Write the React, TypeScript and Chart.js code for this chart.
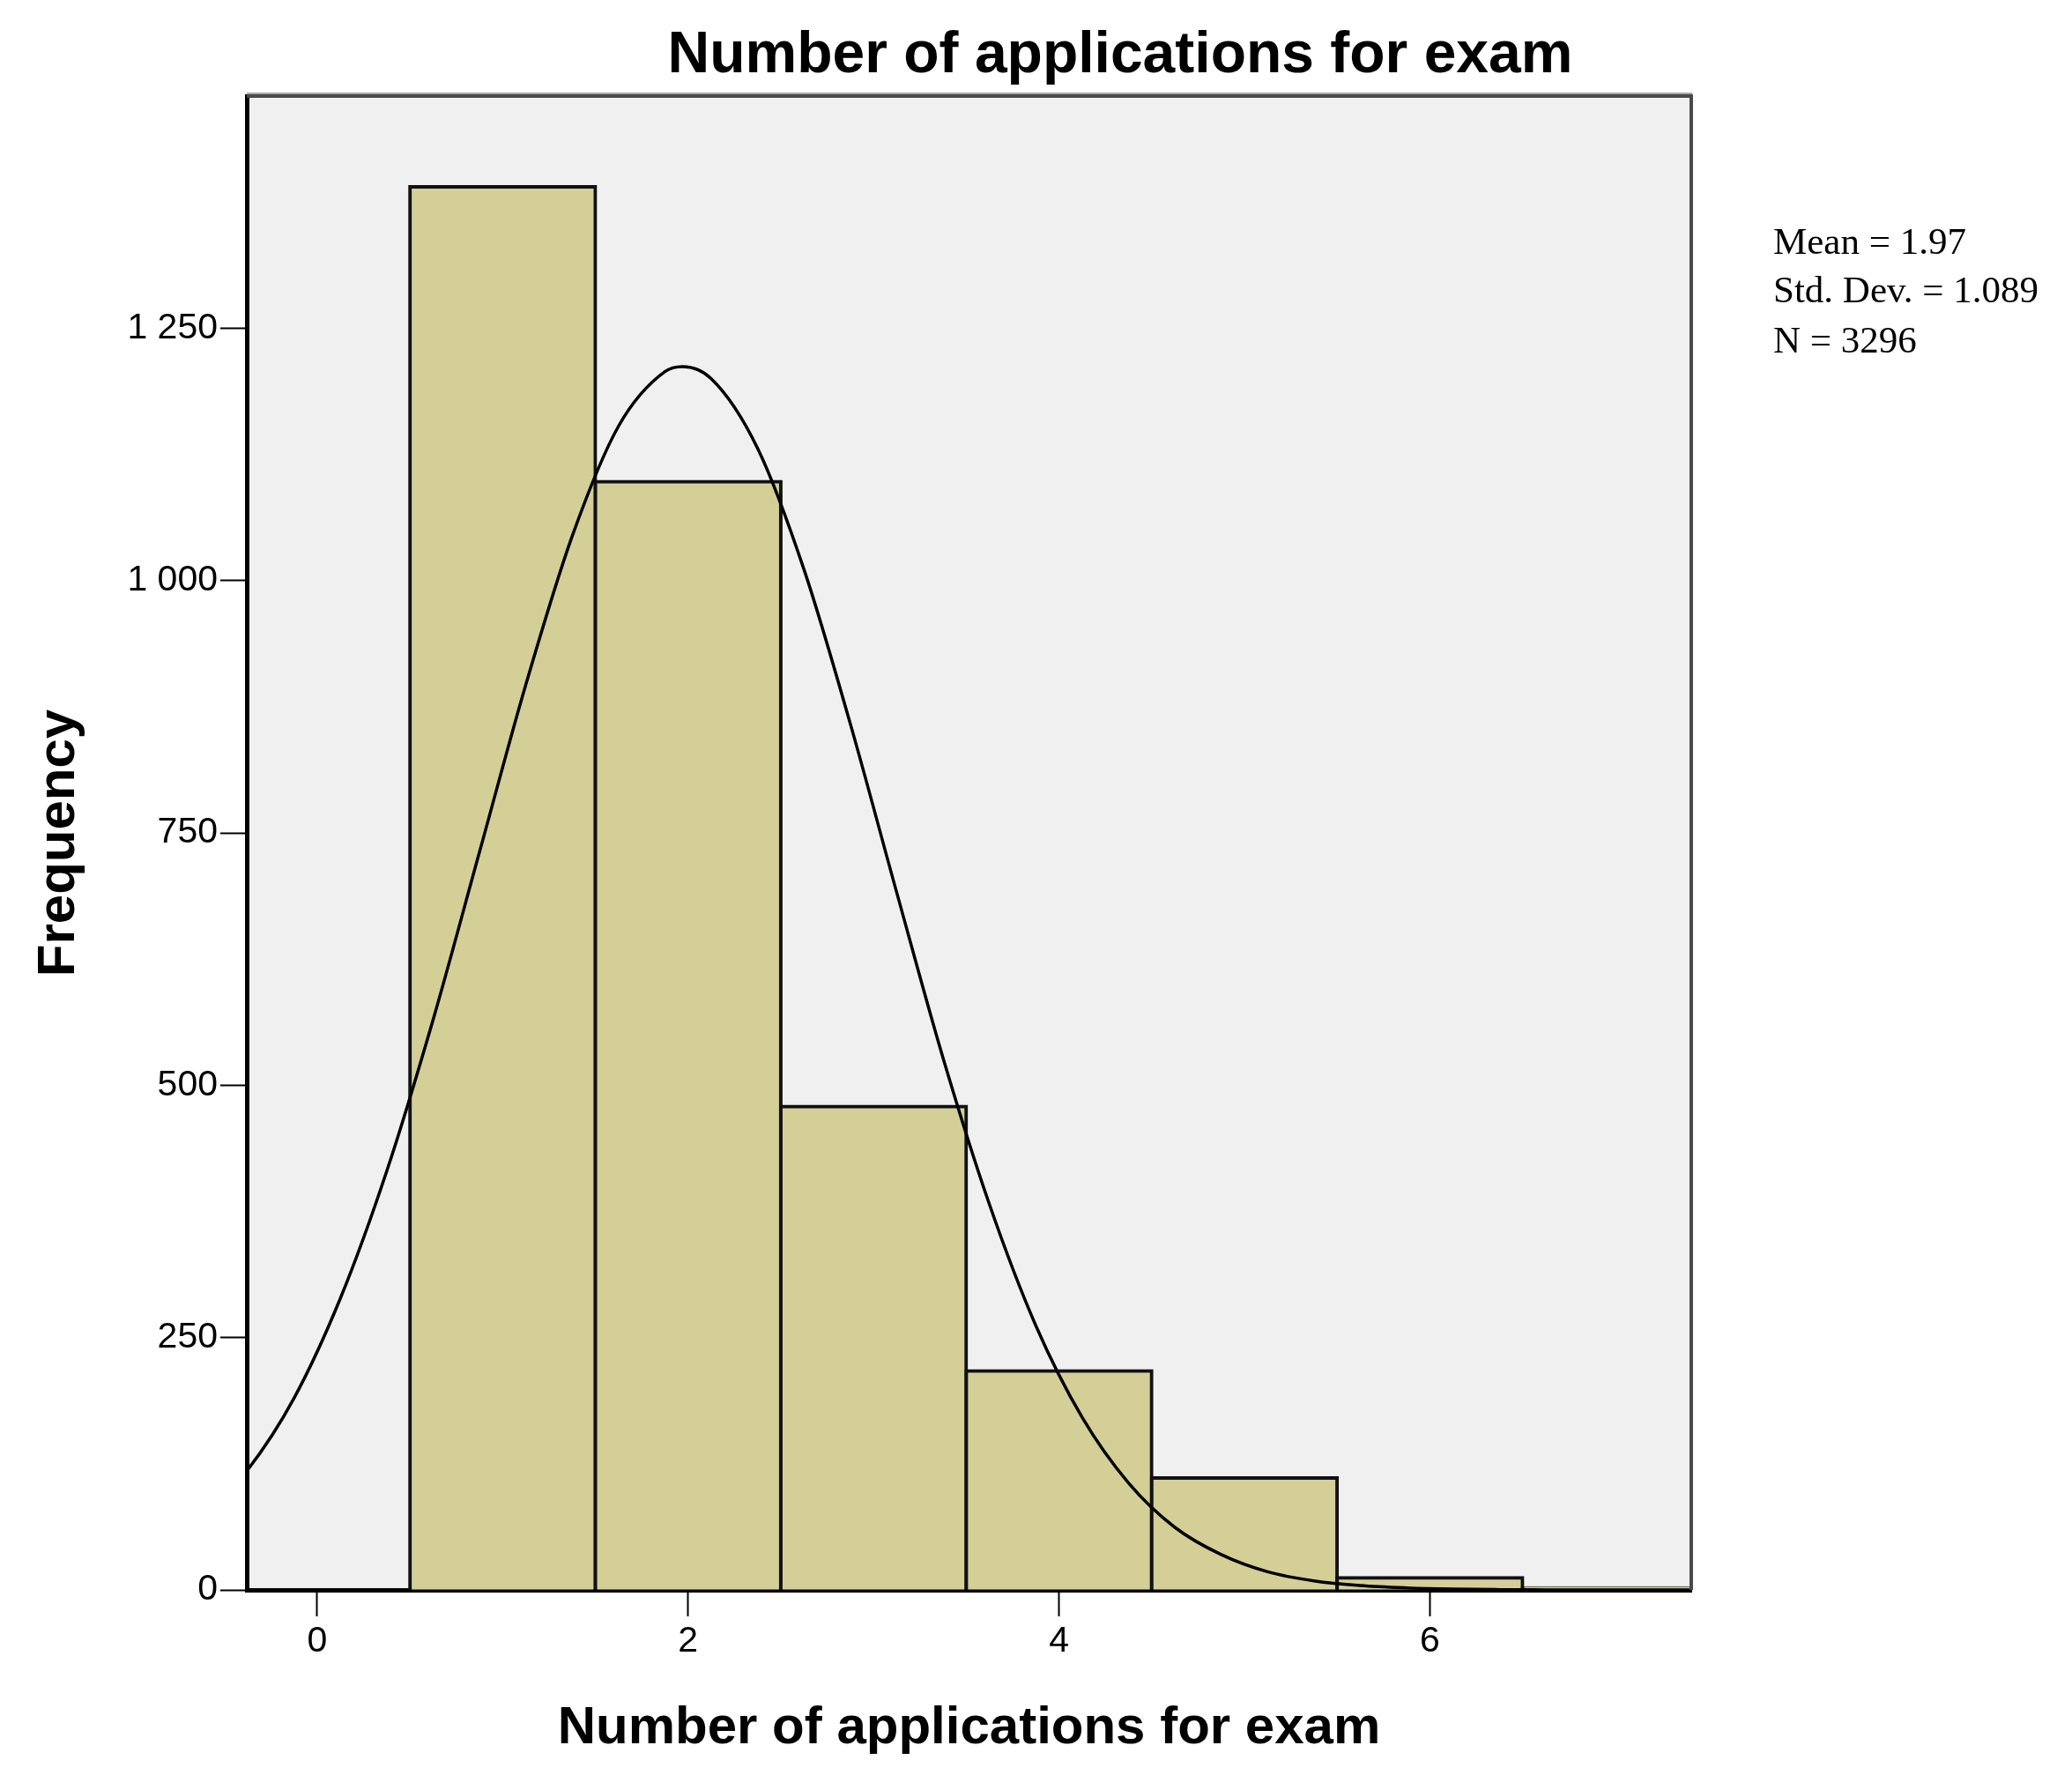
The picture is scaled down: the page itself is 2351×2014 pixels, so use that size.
import React, { useEffect, useRef } from "react";
import { Chart, registerables } from "chart.js";

Chart.register(...registerables);

// ---- data ----
const chartTitle = "Number of applications for exam";
const xAxisTitle = "Number of applications for exam";
const yAxisTitle = "Frequency";
const binCenters = [1, 2, 3, 4, 5, 6, 7];
const frequencies = [1390, 1098, 479, 217, 111, 12, 2];
const curveX = [-0.875, -0.625, -0.375, -0.125, 0.125, 0.375, 0.625, 0.875, 1.125, 1.375, 1.625, 1.875, 1.97, 2.125, 2.375, 2.625, 2.875, 3.125, 3.375, 3.625, 3.875, 4.125, 4.375, 4.625, 4.875, 5.125, 5.375, 5.625, 5.875, 6.125, 6.375, 6.625, 6.875, 7.125, 7.41];
const curveY = [40, 71, 119, 190, 289, 415, 565, 731, 897, 1044, 1153, 1207, 1212, 1200, 1131, 1011, 858, 691, 527, 382, 262, 171, 106, 62, 35, 18, 9, 4.3, 2, 0.8, 0.3, 0.1, 0, 0, 0];
const xTicks = [0, 2, 4, 6];
const yTicks = [0, 250, 500, 750, 1000, 1250];
const statsLines = ["Mean = 1.97", "Std. Dev. = 1.089", "N = 3296"];

const W = 2351;
const H = 2014;

function fmtThousands(v: number): string {
  const s = String(Math.round(v));
  return s.replace(/\B(?=(\d{3})+(?!\d))/g, " ");
}

const decorPlugin = {
  id: "decor",
  beforeDraw(chart: any) {
    const { ctx, chartArea } = chart;
    ctx.save();
    ctx.fillStyle = "#ffffff";
    ctx.fillRect(0, 0, chart.width, chart.height);
    ctx.fillStyle = "#f0f0f0";
    ctx.fillRect(chartArea.left, chartArea.top, chartArea.right - chartArea.left, chartArea.bottom - chartArea.top);
    ctx.restore();
  },
  afterDraw(chart: any) {
    const { ctx, chartArea } = chart;
    ctx.save();
    // top and right frame
    ctx.strokeStyle = "#a8a8a8";
    ctx.lineWidth = 2;
    ctx.beginPath();
    ctx.moveTo(chartArea.left, chartArea.top - 3);
    ctx.lineTo(chartArea.right + 1, chartArea.top - 3);
    ctx.stroke();
    ctx.strokeStyle = "#4a4a4a";
    ctx.lineWidth = 4;
    ctx.beginPath();
    ctx.moveTo(chartArea.left, chartArea.top);
    ctx.lineTo(chartArea.right, chartArea.top);
    ctx.lineTo(chartArea.right, chartArea.bottom);
    ctx.stroke();
    // title
    ctx.fillStyle = "#000";
    ctx.font = "bold 66px 'Liberation Sans', Arial, sans-serif";
    ctx.textAlign = "center";
    ctx.textBaseline = "alphabetic";
    ctx.fillText(chartTitle, 1271, 82);
    // stats
    ctx.font = "43px 'Liberation Serif', 'Times New Roman', serif";
    ctx.textAlign = "left";
    const baselines = [288, 343, 400];
    statsLines.forEach((t, i) => ctx.fillText(t, 2012, baselines[i]));
    ctx.restore();
  },
};

export default function App() {
  const ref = useRef<HTMLCanvasElement | null>(null);

  useEffect(() => {
    document.body.style.margin = "0";
    const canvas = ref.current;
    if (!canvas) return;
    const chart = new Chart(canvas, {
      type: "bar",
      data: {
        datasets: [
          {
            type: "line",
            data: curveX.map((x, i) => ({ x, y: curveY[i] })),
            borderColor: "#000",
            borderWidth: 3.5,
            pointRadius: 0,
            cubicInterpolationMode: "monotone",
            fill: false,
            order: 0,
          } as any,
          {
            type: "bar",
            data: binCenters.map((x, i) => ({ x, y: frequencies[i] })),
            backgroundColor: "#d3cf97",
            borderColor: "#111",
            borderWidth: 4,
            inflateAmount: 2,
            borderSkipped: "bottom",
            barPercentage: 1,
            categoryPercentage: 1,
            order: 1,
          } as any,
        ],
      },
      options: {
        animation: false,
        responsive: false,
        devicePixelRatio: 1,
        layout: { padding: { top: 109, right: 432, left: 0, bottom: 0 } },
        plugins: { legend: { display: false }, tooltip: { enabled: false }, title: { display: false } },
        scales: {
          x: {
            type: "linear",
            min: -0.38,
            max: 7.41,
            offset: false,
            afterBuildTicks: (axis: any) => {
              axis.ticks = xTicks.map((v) => ({ value: v }));
            },
            afterFit: (scale: any) => {
              scale.height = H - 1804;
            },
            grid: { display: true, drawOnChartArea: false, drawTicks: true, tickLength: 30, tickColor: "#000", tickWidth: 2, offset: false },
            border: { display: true, color: "#000", width: 5 },
            ticks: {
              color: "#000",
              padding: 4,
              font: { family: "'Liberation Sans', Arial, sans-serif", size: 41 },
              callback: (v: any) => String(v),
              maxRotation: 0,
              autoSkip: false,
            },
            title: {
              display: true,
              text: xAxisTitle,
              color: "#000",
              font: { family: "'Liberation Sans', Arial, sans-serif", size: 60, weight: "bold" },
              padding: { top: 0, bottom: 17 },
            },
          },
          y: {
            type: "linear",
            min: 0,
            max: 1480,
            afterBuildTicks: (axis: any) => {
              axis.ticks = yTicks.map((v) => ({ value: v }));
            },
            afterFit: (scale: any) => {
              scale.width = 280;
            },
            grid: { display: true, drawOnChartArea: false, drawTicks: true, tickLength: 30, tickColor: "#000", tickWidth: 2 },
            border: { display: true, color: "#000", width: 5 },
            ticks: {
              color: "#000",
              padding: 3,
              font: { family: "'Liberation Sans', Arial, sans-serif", size: 41 },
              callback: (v: any) => fmtThousands(Number(v)),
              autoSkip: false,
            },
            title: {
              display: true,
              text: yAxisTitle,
              color: "#000",
              font: { family: "'Liberation Sans', Arial, sans-serif", size: 60, weight: "bold" },
              padding: { top: 31, bottom: 0 },
            },
          },
        },
      } as any,
      plugins: [decorPlugin],
    });
    return () => chart.destroy();
  }, []);

  return (
    <div style={{ position: "absolute", left: 0, top: 0, width: W, height: H }}>
      <canvas ref={ref} width={W} height={H} style={{ display: "block", width: W, height: H }} />
    </div>
  );
}
